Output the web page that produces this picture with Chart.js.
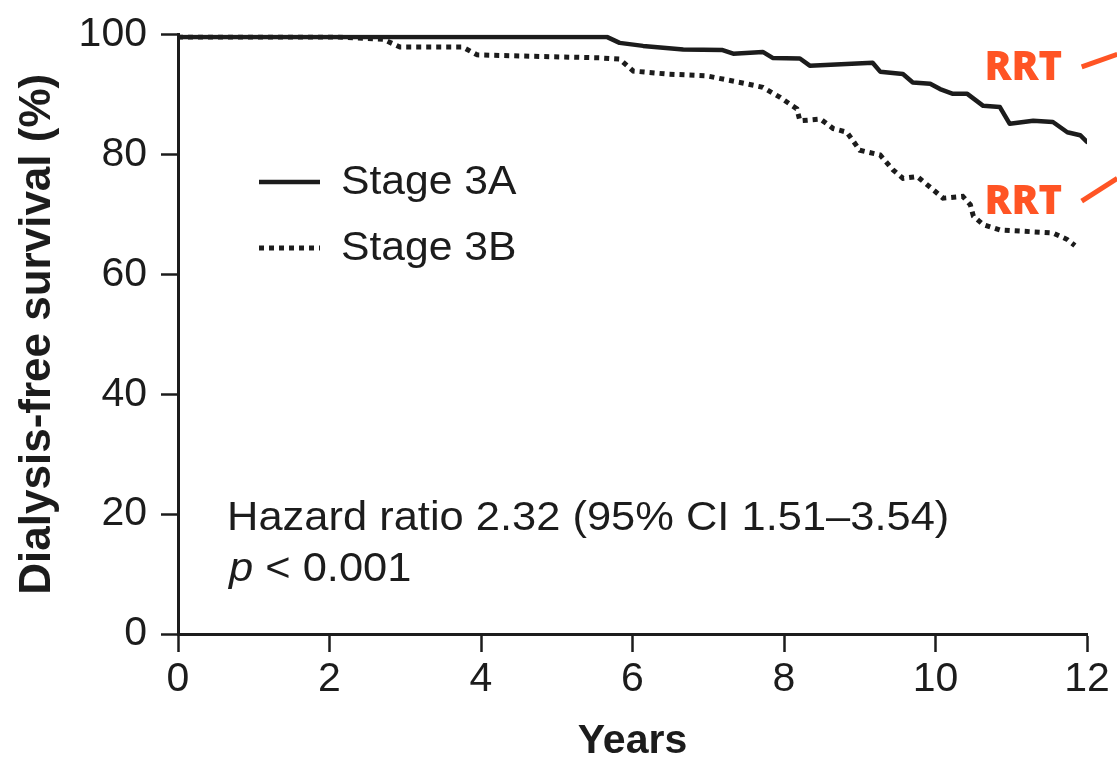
<!DOCTYPE html>
<html>
<head>
<meta charset="utf-8">
<script src="https://cdn.jsdelivr.net/npm/chart.js@4.4.1/dist/chart.umd.min.js"></script>
<style>
  html, body { margin: 0; padding: 0; background: #fff; }
  #wrap { width: 1117px; height: 767px; position: relative; }
</style>
</head>
<body>
<div id="wrap"><canvas id="km"></canvas></div>
<script>
  // Kaplan-Meier curves (years, % dialysis-free)
  const stage3aYears = [0, 5.57, 5.66, 5.83, 6.14, 6.67, 7.19, 7.33, 7.72, 7.85, 8.21, 8.34, 9.17, 9.27, 9.57, 9.70, 9.93, 10.06, 10.23, 10.42, 10.63, 10.85, 10.98, 11.29, 11.55, 11.74, 11.91, 12.0];
  const stage3aSurvival = [99.6, 99.6, 99.6, 98.6, 98.1, 97.5, 97.4, 96.8, 97.1, 96.1, 96.0, 94.8, 95.3, 93.8, 93.4, 92.0, 91.8, 90.9, 90.1, 90.1, 88.1, 87.9, 85.1, 85.6, 85.4, 83.7, 83.2, 82.1];

  const stage3bYears = [0, 2.1, 2.71, 2.93, 3.76, 3.95, 5.57, 5.83, 6.01, 6.46, 6.98, 7.42, 7.72, 7.95, 8.17, 8.21, 8.48, 8.65, 8.83, 9.00, 9.27, 9.44, 9.57, 9.76, 9.97, 10.10, 10.36, 10.46, 10.50, 10.63, 10.85, 11.55, 11.74, 11.84];
  const stage3bSurvival = [99.6, 99.6, 99.2, 97.9, 97.9, 96.6, 96.1, 95.9, 93.9, 93.4, 93.1, 92.0, 91.2, 89.5, 87.6, 85.6, 85.9, 84.3, 83.7, 80.7, 79.9, 77.4, 76.0, 76.3, 74.1, 72.7, 73.0, 71.6, 69.7, 68.3, 67.4, 66.9, 65.8, 64.8];

  const seriesLabels = ["Stage 3A", "Stage 3B"];
  const xTicks = [0, 2, 4, 6, 8, 10, 12];
  const yTicks = [0, 20, 40, 60, 80, 100];

  const statLines = ["Hazard ratio 2.32 (95% CI 1.51\u20133.54)", "< 0.001"];
  const rrtLabel = "RRT";

  const INK = "#1c1c1c";
  const ORANGE = "#ff5424";
  const FONT = "'Liberation Sans', Arial, Helvetica, sans-serif";

  function toPoints(xs, ys) {
    return xs.map((x, i) => ({ x, y: ys[i] }));
  }

  // the printed figure is a little wider than tall, stretch free text to match
  function wideText(ctx, text, x, y, sx) {
    ctx.save();
    ctx.translate(x, y);
    ctx.scale(sx, 1);
    ctx.fillText(text, 0, 0);
    ctx.restore();
    return ctx.measureText(text).width * sx;
  }

  // legend, stats text and RRT callouts
  const overlay = {
    id: "overlay",
    afterDraw(chart) {
      const { ctx, scales: { x, y } } = chart;
      ctx.save();

      // legend
      const ds = chart.data.datasets;
      const rows = [182, 248];
      ds.forEach((d, i) => {
        ctx.beginPath();
        ctx.strokeStyle = d.borderColor;
        ctx.lineWidth = d.borderWidth;
        ctx.setLineDash(d.borderDash || []);
        ctx.moveTo(259, rows[i]);
        ctx.lineTo(320, rows[i]);
        ctx.stroke();
        ctx.setLineDash([]);
        ctx.fillStyle = INK;
        ctx.font = "41px " + FONT;
        ctx.textBaseline = "middle";
        ctx.textAlign = "left";
        wideText(ctx, d.label, 341, rows[i] + 1, 1.04);
      });

      // hazard ratio
      ctx.textBaseline = "alphabetic";
      ctx.font = "41px " + FONT;
      wideText(ctx, statLines[0], 227, 530, 1.06);
      ctx.font = "italic 41px " + FONT;
      const pw = wideText(ctx, "p ", 229, 581, 1.06);
      ctx.font = "41px " + FONT;
      wideText(ctx, statLines[1], 229 + pw, 581, 1.06);

      // RRT callouts
      const callouts = [
        { tx: 11.16, ty: 94.5, from: [11.93, 94.6], to: [12.4, 96.7] },
        { tx: 11.16, ty: 72.2, from: [11.93, 72.2], to: [12.4, 76.0] }
      ];
      ctx.fillStyle = ORANGE;
      ctx.strokeStyle = ORANGE;
      ctx.font = "800 40px 'Open Sans', " + FONT;
      ctx.textAlign = "center";
      ctx.textBaseline = "middle";
      ctx.lineWidth = 5;
      callouts.forEach((c) => {
        ctx.fillText(rrtLabel, x.getPixelForValue(c.tx), y.getPixelForValue(c.ty) + 1);
        ctx.beginPath();
        ctx.moveTo(x.getPixelForValue(c.from[0]), y.getPixelForValue(c.from[1]));
        ctx.lineTo(x.getPixelForValue(c.to[0]), y.getPixelForValue(c.to[1]));
        ctx.stroke();
      });

      ctx.restore();
    }
  };

  new Chart(document.getElementById("km"), {
    type: "line",
    data: {
      datasets: [
        {
          label: seriesLabels[0],
          data: toPoints(stage3aYears, stage3aSurvival),
          borderColor: INK,
          borderWidth: 4.5,
          borderJoinStyle: "round",
          borderCapStyle: "round",
          pointRadius: 0,
          tension: 0,
          fill: false
        },
        {
          label: seriesLabels[1],
          data: toPoints(stage3bYears, stage3bSurvival),
          borderColor: INK,
          borderWidth: 5,
          borderDash: [5, 5],
          borderCapStyle: "butt",
          pointRadius: 0,
          tension: 0,
          fill: false
        }
      ]
    },
    options: {
      responsive: true,
      maintainAspectRatio: false,
      animation: false,
      events: [],
      layout: { padding: { top: 30, right: 30, left: 0, bottom: 0 } },
      plugins: {
        legend: { display: false },
        tooltip: { enabled: false }
      },
      scales: {
        x: {
          type: "linear",
          min: 0,
          max: 12,
          afterBuildTicks: (s) => { s.ticks = xTicks.map((v) => ({ value: v })); },
          afterFit: (s) => { s.height = 133; },
          border: { display: true, color: INK, width: 3 },
          grid: { drawOnChartArea: false, drawTicks: true, tickLength: 18, tickColor: INK, tickWidth: 2.5 },
          ticks: { color: INK, padding: 7, font: { family: FONT, size: 41, lineHeight: 1 } },
          title: {
            display: true,
            text: "Years",
            color: INK,
            font: { family: FONT, size: 41, weight: "bold", lineHeight: 1 },
            padding: { top: 0, bottom: 5 }
          }
        },
        y: {
          min: 0,
          max: 100,
          afterBuildTicks: (s) => { s.ticks = yTicks.map((v) => ({ value: v })); },
          afterFit: (s) => { s.width = 178; },
          border: { display: true, color: INK, width: 3 },
          grid: { drawOnChartArea: false, drawTicks: true, tickLength: 17, tickColor: INK, tickWidth: 2.5 },
          ticks: { color: INK, padding: 14, font: { family: FONT, size: 41, lineHeight: 1 } },
          title: {
            display: true,
            text: "Dialysis-free survival (%)",
            color: INK,
            font: { family: FONT, size: 44, weight: "bold", lineHeight: 1 },
            padding: { top: 16, bottom: 0 }
          }
        }
      }
    },
    plugins: [overlay]
  });
</script>
</body>
</html>
